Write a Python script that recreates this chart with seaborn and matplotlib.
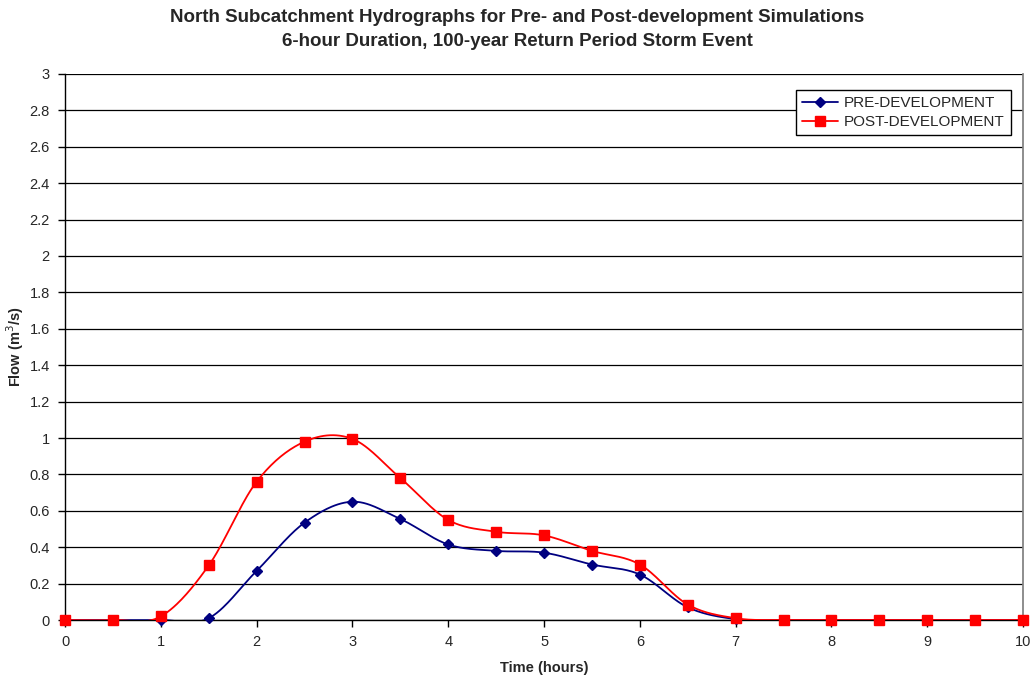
import numpy as np
import pandas as pd
import matplotlib
matplotlib.use("Agg")
import matplotlib.pyplot as plt
from matplotlib.lines import Line2D
import seaborn as sns

# Hydrograph ordinates (m^3/s) every half hour
time_h = [0, 0.5, 1, 1.5, 2, 2.5, 3, 3.5, 4, 4.5, 5, 5.5, 6, 6.5, 7,
          7.5, 8, 8.5, 9, 9.5, 10]
pre_dev = [0, 0, 0, 0.01, 0.27, 0.535, 0.65, 0.555, 0.415, 0.38, 0.37,
           0.305, 0.25, 0.07, 0.005, 0, 0, 0, 0, 0, 0]
post_dev = [0, 0, 0.02, 0.30, 0.76, 0.98, 0.995, 0.78, 0.55, 0.485, 0.465,
            0.38, 0.305, 0.085, 0.01, 0, 0, 0, 0, 0, 0]
series_names = ["PRE-DEVELOPMENT", "POST-DEVELOPMENT"]
y_ticks = [0, 0.2, 0.4, 0.6, 0.8, 1, 1.2, 1.4, 1.6, 1.8, 2, 2.2, 2.4, 2.6, 2.8, 3]
x_ticks = list(range(0, 11))
title_lines = ["North Subcatchment Hydrographs for Pre- and Post-development Simulations",
               "6-hour Duration, 100-year Return Period Storm Event"]


def smooth_curve(x, y, n=30):
    """Bezier smoothing through every point (Catmull-Rom style control points)."""
    x = np.asarray(x, float)
    y = np.asarray(y, float)
    px, py = [], []
    m = len(x)
    for i in range(m - 1):
        i0, i3 = max(i - 1, 0), min(i + 2, m - 1)
        p0 = np.array([x[i0], y[i0]])
        p1 = np.array([x[i], y[i]])
        p2 = np.array([x[i + 1], y[i + 1]])
        p3 = np.array([x[i3], y[i3]])
        c1 = p1 + (p2 - p0) / 6.0
        c2 = p2 - (p3 - p1) / 6.0
        t = np.linspace(0, 1, n, endpoint=(i == m - 2))[:, None]
        pts = ((1 - t) ** 3) * p1 + 3 * ((1 - t) ** 2) * t * c1 \
            + 3 * (1 - t) * t ** 2 * c2 + t ** 3 * p2
        px.extend(pts[:, 0])
        py.extend(pts[:, 1])
    return np.array(px), np.array(py)


sns.set_theme(style="white")
plt.rcParams["font.family"] = ["Liberation Sans", "DejaVu Sans"]

fig = plt.figure(figsize=(10.34, 6.78), dpi=100)
ax = fig.add_axes([0.0629, 0.0855, 0.9265, 0.8054])

colors = ["#000080", "#FF0000"]
markers = ["D", "s"]
msizes = [5.5, 7.5]
handles = []
for name, vals, col, mk, ms in zip(series_names, [pre_dev, post_dev], colors, markers, msizes):
    sx, sy = smooth_curve(time_h, vals)
    curve = pd.DataFrame({"t": sx, "q": sy})
    sns.lineplot(data=curve, x="t", y="q", ax=ax, color=col, lw=1.3,
                 sort=False, estimator=None, zorder=3)
    pts = pd.DataFrame({"t": time_h, "q": vals})
    ax.plot(pts["t"], pts["q"], ls="none", marker=mk, ms=ms, color=col,
            mec=col, zorder=4, clip_on=False)
    handles.append(Line2D([0], [0], color=col, lw=1.3, marker=mk, ms=ms - 0.5, mec=col))

ax.set_xlim(0, 10)
ax.set_ylim(0, 3)
ax.set_xticks(x_ticks)
ax.set_xticklabels([str(v) for v in x_ticks])
ax.set_yticks(y_ticks)
ax.set_yticklabels([f"{v:g}" for v in y_ticks])
ax.yaxis.grid(True, color="black", lw=0.9)
ax.xaxis.grid(False)
ax.set_axisbelow(True)

for side in ["left", "bottom"]:
    ax.spines[side].set_color("black")
    ax.spines[side].set_linewidth(1.0)
ax.spines["right"].set_color("#808080")
ax.spines["top"].set_visible(False)

ax.tick_params(axis="both", which="major", direction="out", length=5, width=1,
               color="black", labelsize=10.5, bottom=True, left=True, pad=6)

ax.set_xlabel("Time (hours)", fontsize=10.5, fontweight="bold")
ax.set_ylabel("Flow (m$^3$/s)", fontsize=10.5, fontweight="bold")
ax.xaxis.set_label_coords(0.5, -0.075)
ax.yaxis.set_label_coords(-0.041, 0.5)

fig.text(0.5, 1 - 18 / 678, title_lines[0], ha="center", va="center",
         fontsize=13.5, fontweight="bold")
fig.text(0.5, 1 - 42 / 678, title_lines[1], ha="center", va="center",
         fontsize=13.5, fontweight="bold")

leg = ax.legend(handles, series_names, loc="upper right", bbox_to_anchor=(0.987, 0.97),
                frameon=True, fancybox=False, fontsize=11, handlelength=2.4,
                borderpad=0.4, labelspacing=0.3, handletextpad=0.35, borderaxespad=0)
leg.get_frame().set_edgecolor("black")
leg.get_frame().set_linewidth(1.0)
leg.get_frame().set_alpha(1)

fig.savefig("out.png", dpi=100, facecolor="white")
